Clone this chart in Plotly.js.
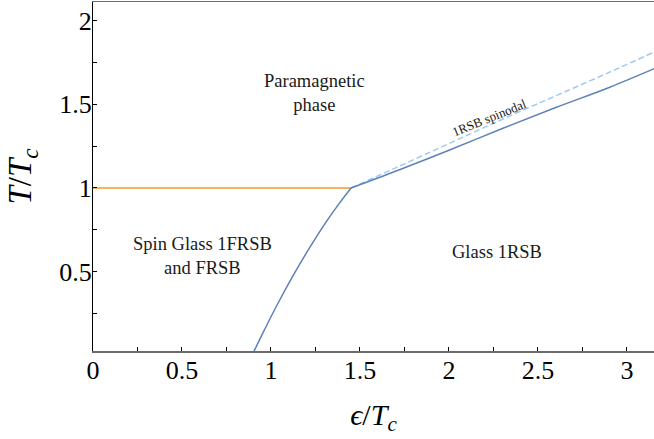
<!DOCTYPE html>
<html>
<head>
<meta charset="utf-8">
<script src="https://cdn.plot.ly/plotly-3.0.1.min.js"></script>
<style>html,body{margin:0;padding:0;background:#fff;}#chart{width:654px;height:439px;}</style>
</head>
<body>
<div id="chart"></div>
<script>
// Phase boundary data
var paraSgX = [0, 1.45];
var paraSgY = [1, 1];
var sgGlassX = [0.89, 0.95, 1.032, 1.125, 1.219, 1.313, 1.388, 1.45];
var sgGlassY = [-0.007, 0.125, 0.297, 0.478, 0.647, 0.802, 0.914, 1.0];
var paraGlassX = [1.45, 1.7, 2.0, 2.3, 2.6, 2.9, 3.16];
var paraGlassY = [1.0, 1.10, 1.225, 1.355, 1.48, 1.60, 1.715];
var spinodalX = [1.45, 1.7, 2.0, 2.3, 2.6, 2.9, 3.16];
var spinodalY = [1.0, 1.12, 1.265, 1.41, 1.55, 1.69, 1.815];

var xTickVals = [0, 0.5, 1, 1.5, 2, 2.5, 3];
var xTickText = ['0', '0.5', '1', '1.5', '2', '2.5', '3'];
var yTickVals = [0.5, 1, 1.5, 2];
var yTickText = ['0.5', '1', '1.5', '2'];

var regionLabels = ['Paramagnetic<br>phase', 'Spin Glass 1FRSB<br>and FRSB', 'Glass 1RSB'];
var regionX = [1.245, 0.615, 2.27];
var regionY = [1.565, 0.595, 0.62];

var serif = '"Liberation Serif", "Times New Roman", serif';

var traces = [
  {x: paraSgX, y: paraSgY, mode: 'lines', line: {color: '#f29a2e', width: 1.5}, hoverinfo: 'skip'},
  {x: spinodalX, y: spinodalY, mode: 'lines', line: {color: '#9ecaf0', width: 1.5, dash: '6px,3px', shape: 'spline'}, hoverinfo: 'skip'},
  {x: sgGlassX, y: sgGlassY, mode: 'lines', line: {color: '#5d81b9', width: 1.5, shape: 'spline'}, hoverinfo: 'skip'},
  {x: paraGlassX, y: paraGlassY, mode: 'lines', line: {color: '#5d81b9', width: 1.5, shape: 'spline'}, hoverinfo: 'skip'}
];

var annotations = regionLabels.map(function (t, i) {
  return {x: regionX[i], y: regionY[i], xref: 'x', yref: 'y', text: t, showarrow: false,
    font: {family: serif, size: 18.5, color: '#1a1a1a'}, align: 'center'};
});
annotations.push({x: 2.23, y: 1.42, xref: 'x', yref: 'y', text: '1RSB spinodal', showarrow: false,
  textangle: -22, font: {family: serif, size: 13, color: '#1a1a1a'}});

var layout = {
  width: 654, height: 439,
  margin: {l: 93, r: 0, t: 2, b: 88},
  paper_bgcolor: '#fff', plot_bgcolor: '#fff',
  showlegend: false,
  xaxis: {
    range: [0, 3.152], showgrid: false, zeroline: false,
    showline: true, linecolor: '#6b6b6b', linewidth: 1.5, mirror: true,
    ticks: 'inside', ticklen: 4, tickcolor: '#000', tickwidth: 1,
    tickvals: xTickVals, ticktext: xTickText, ticklabelstandoff: -5,
    minor: {tickvals: [0.25, 0.75, 1.25, 1.75, 2.25, 2.75], ticks: 'inside', ticklen: 4, tickcolor: '#000', tickwidth: 1, showgrid: false},
    tickfont: {family: serif, size: 26, color: '#000'},
    title: {text: '<i>ϵ</i>/<i>T</i><sub><i>c</i></sub>', font: {family: serif, size: 30, color: '#000'}, standoff: 20}
  },
  yaxis: {
    range: [0.027, 2.11], showgrid: false, zeroline: false, automargin: true,
    showline: true, linecolor: '#000', linewidth: 1,
    ticks: 'inside', ticklen: 4, tickcolor: '#000', tickwidth: 1,
    tickvals: yTickVals, ticktext: yTickText, ticklabelstandoff: -5,
    minor: {tickvals: [0.25, 0.75, 1.25, 1.75], ticks: 'inside', ticklen: 4, tickcolor: '#000', tickwidth: 1, showgrid: false},
    tickfont: {family: serif, size: 26, color: '#000'},
    title: {text: '<i>T</i>/<i>T</i><sub><i>c</i></sub>', font: {family: serif, size: 33, color: '#000'}, standoff: 17}
  },
  annotations: annotations
};

Plotly.newPlot('chart', traces, layout, {staticPlot: true, displayModeBar: false});
</script>
</body>
</html>
